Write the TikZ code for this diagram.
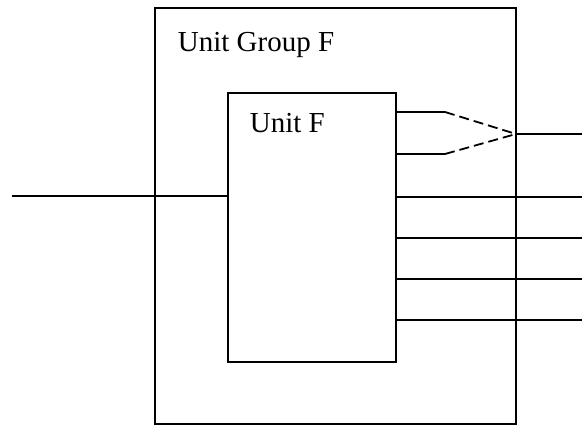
\documentclass[tikz,border=0pt]{standalone}
\usepackage{fontspec}
\setmainfont{Liberation Serif}
\begin{document}
\begin{tikzpicture}[x=1pt,y=-1pt,line width=1.8pt,
  box/.style={draw,inner sep=0,outer sep=0,anchor=north west},
  lbl/.style={inner sep=0,anchor=base west,font=\fontsize{29}{34}\selectfont}]
          \useasboundingbox (0,0) rectangle (582,427);
          \node [box,minimum width=361,minimum height=416] (group) at (155,8) {};
          \node [box,minimum width=168,minimum height=269] (unit) at (228,93) {};
          \node [lbl] (grouplbl) at (177,52) {Unit Group F};
          \node [lbl] (unitlbl) at (249,133) {Unit F};
          % input
          \coordinate (in) at (12,196);
          \draw (in) -- (in -| unit.west);
          % merged outputs
          \coordinate (out) at (582,134);
          \coordinate (merge) at (group.east |- out);
          \draw (unit.east |- 0,112) -- ++(49,0) coordinate (k1);
          \draw (unit.east |- 0,154) -- ++(49,0) coordinate (k2);
          \draw [dash pattern=on 10pt off 5pt] (k1) -- (merge);
          \draw [dash pattern=on 10pt off 5pt] (k2) -- (merge);
          \draw (merge) -- (out);
          % outputs
          \foreach \y [count=\i] in {197,238,279,320} {
            \coordinate (o\i) at (582,\y);
            \draw (unit.east |- o\i) -- (o\i);
          }
        \end{tikzpicture}
\end{document}
